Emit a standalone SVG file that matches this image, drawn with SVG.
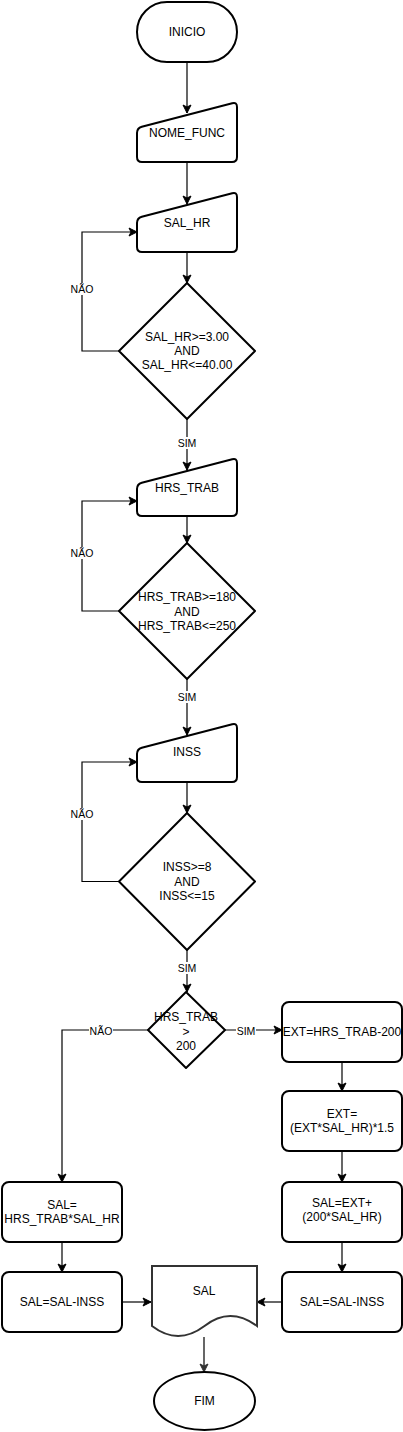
<svg xmlns="http://www.w3.org/2000/svg" width="403" height="1432" viewBox="0 0 403 1432">
<style>
.s{fill:#fff;stroke:#000;stroke-width:2;stroke-linejoin:round}
.t{font-family:"Liberation Sans",Arial,sans-serif;font-size:12px;fill:#000;text-anchor:middle}
.l{font-family:"Liberation Sans",Arial,sans-serif;font-size:10.5px;fill:#000;text-anchor:middle}
.c{fill:none;stroke:#000;stroke-width:1.2}
.bg{fill:#fff}
</style>
<defs>
<marker id="a" markerUnits="userSpaceOnUse" markerWidth="10" markerHeight="10" refX="9" refY="5" orient="auto">
<path d="M1,1 L9,5 L1,9 L3,5 Z" fill="#000" stroke="#000" stroke-width="1"/>
</marker>
<marker id="ag" markerUnits="userSpaceOnUse" markerWidth="10" markerHeight="10" refX="9" refY="5" orient="auto">
<path d="M1,1 L9,5 L1,9 L3,5 Z" fill="#333" stroke="#333" stroke-width="1"/>
</marker>
</defs>
<g id="connectors">
<path class="c" d="M187,62 V113" marker-end="url(#a)"/>
<path class="c" d="M187,162 V204" marker-end="url(#a)"/>
<path class="c" d="M187,252 V283" marker-end="url(#a)"/>
<path class="c" d="M119,351 H82 V232 H137" marker-end="url(#a)"/>
<path class="c" d="M187,419 V470" marker-end="url(#a)"/>
<path class="c" d="M187,516 V543" marker-end="url(#a)"/>
<path class="c" d="M119,611 H82 V501 H137" marker-end="url(#a)"/>
<path class="c" d="M187,679 V735" marker-end="url(#a)"/>
<path class="c" d="M187,782 V813" marker-end="url(#a)"/>
<path class="c" d="M119,881.5 H82 V762 H137" marker-end="url(#a)"/>
<path class="c" d="M187,950 V992" marker-end="url(#a)"/>
<path class="c" d="M148,1030 H62 V1182" marker-end="url(#a)"/>
<path class="c" d="M225,1030 H282" marker-end="url(#a)"/>
<path class="c" d="M342,1062 V1091" marker-end="url(#a)"/>
<path class="c" d="M342,1151 V1182" marker-end="url(#a)"/>
<path class="c" d="M62,1242 V1272" marker-end="url(#a)"/>
<path class="c" d="M342,1242 V1272" marker-end="url(#a)"/>
<path class="c" d="M122,1302 H151" marker-end="url(#a)"/>
<path class="c" d="M282,1302 H257" marker-end="url(#a)"/>
<path class="c" d="M204,1337 V1372" stroke="#555" marker-end="url(#ag)"/>
<rect class="bg" x="70" y="283" width="24" height="12"/><text class="l" x="82" y="293">NÃO</text>
<rect class="bg" x="177" y="437" width="20" height="12"/><text class="l" x="187" y="447">SIM</text>
<rect class="bg" x="70" y="547" width="24" height="12"/><text class="l" x="82" y="557">NÃO</text>
<rect class="bg" x="177" y="691" width="20" height="12"/><text class="l" x="187" y="701">SIM</text>
<rect class="bg" x="70" y="808" width="24" height="12"/><text class="l" x="82" y="818">NÃO</text>
<rect class="bg" x="177" y="962" width="20" height="12"/><text class="l" x="187" y="972">SIM</text>
<rect class="bg" x="89" y="1025" width="24" height="12"/><text class="l" x="101" y="1035">NÃO</text>
<rect class="bg" x="236" y="1025" width="20" height="12"/><text class="l" x="246" y="1035">SIM</text>
</g>
<g id="inicio"><rect class="s" x="137" y="2" width="100" height="60" rx="30"/><text class="t" x="187" y="36">INICIO</text></g>
<g id="nome_func"><path class="s" d="M137,133 Q137,128 141.8,126.7 L232.2,103.3 Q237,102 237,107 L237,157 Q237,162 232,162 L142,162 Q137,162 137,157 Z"/><text class="t" x="187" y="137">NOME_FUNC</text></g>
<g id="sal_hr"><path class="s" d="M137,223 Q137,218 141.8,216.7 L232.2,193.3 Q237,192 237,197 L237,247 Q237,252 232,252 L142,252 Q137,252 137,247 Z"/><text class="t" x="187" y="227">SAL_HR</text></g>
<g id="dec1"><path class="s" d="M187,283 L255,351 L187,419 L119,351 Z"/><text class="t" x="187" y="341">SAL_HR&gt;=3.00</text><text class="t" x="187" y="355">AND</text><text class="t" x="187" y="369">SAL_HR&lt;=40.00</text></g>
<g id="hrs_trab"><path class="s" d="M137,489 Q137,484 141.8,482.7 L232.2,459.3 Q237,458 237,463 L237,511 Q237,516 232,516 L142,516 Q137,516 137,511 Z"/><text class="t" x="187" y="492">HRS_TRAB</text></g>
<g id="dec2"><path class="s" d="M187,543 L255,611 L187,679 L119,611 Z"/><text class="t" x="187" y="601">HRS_TRAB&gt;=180</text><text class="t" x="187" y="616">AND</text><text class="t" x="187" y="630">HRS_TRAB&lt;=250</text></g>
<g id="inss"><path class="s" d="M137,754 Q137,749 141.8,747.7 L232.2,724.3 Q237,723 237,728 L237,777 Q237,782 232,782 L142,782 Q137,782 137,777 Z"/><text class="t" x="187" y="756">INSS</text></g>
<g id="dec3"><path class="s" d="M187,813 L255,881.5 L187,950 L119,881.5 Z"/><text class="t" x="187" y="871">INSS&gt;=8</text><text class="t" x="187" y="886">AND</text><text class="t" x="187" y="900">INSS&lt;=15</text></g>
<g id="dec4"><path class="s" d="M186,992 L225,1030 L186,1068 L148,1030 Z"/><text class="t" x="186" y="1021">HRS_TRAB</text><text class="t" x="186" y="1036">&gt;</text><text class="t" x="186" y="1050">200</text></g>
<g id="ext1"><rect class="s" x="282" y="1002" width="120" height="60" rx="7"/><text class="t" x="342" y="1036">EXT=HRS_TRAB-200</text></g>
<g id="ext2"><rect class="s" x="282" y="1091" width="120" height="60" rx="7"/><text class="t" x="342" y="1118">EXT=</text><text class="t" x="342" y="1132">(EXT*SAL_HR)*1.5</text></g>
<g id="sal1"><rect class="s" x="2" y="1182" width="120" height="60" rx="7"/><text class="t" x="62" y="1209">SAL=</text><text class="t" x="62" y="1223">HRS_TRAB*SAL_HR</text></g>
<g id="sal2"><rect class="s" x="282" y="1182" width="120" height="60" rx="7"/><text class="t" x="342" y="1207">SAL=EXT+</text><text class="t" x="342" y="1221">(200*SAL_HR)</text></g>
<g id="inss1"><rect class="s" x="2" y="1272" width="120" height="60" rx="7"/><text class="t" x="62" y="1306">SAL=SAL-INSS</text></g>
<g id="inss2"><rect class="s" x="282" y="1272" width="120" height="60" rx="7"/><text class="t" x="342" y="1306">SAL=SAL-INSS</text></g>
<g id="doc"><path d="M152,1266 H257 V1326 Q230,1306 204.5,1326 Q178,1346 152,1326 Z" fill="#fff" stroke="#333" stroke-width="2"/><text class="t" x="204" y="1295">SAL</text></g>
<g id="fim"><ellipse class="s" cx="204.5" cy="1401" rx="50.5" ry="29"/><text class="t" x="204.5" y="1405">FIM</text></g>
</svg>
